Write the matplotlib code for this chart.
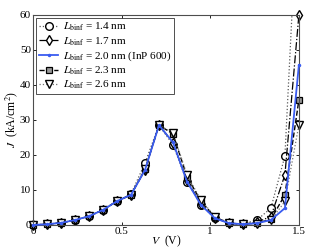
import numpy as np
import matplotlib.pyplot as plt

plt.rcParams['font.family'] = ['Liberation Serif', 'DejaVu Serif']
plt.rcParams['mathtext.fontset'] = 'stix'

#   bias points (V) and current densities (kA/cm^2) per barrier width
V = np.linspace(0, 1.5, 20)
J_14 = [0, 0.2, 0.6, 1.4, 2.5, 4.3, 6.8, 8.8, 17.7, 28.5, 22.9, 12.4, 5.7, 1.9, 0.5, 0.3, 1.4, 4.8, 19.7, 100]
J_17 = [0, 0.2, 0.6, 1.4, 2.5, 4.3, 6.8, 8.6, 15.7, 28.5, 23.5, 12.8, 5.9, 2.0, 0.5, 0.2, 0.8, 2.4, 14.3, 60]
J_20 = [0, 0.2, 0.6, 1.4, 2.5, 4.3, 6.8, 8.6, 15.7, 28.5, 23.6, 12.4, 5.7, 1.9, 0.5, 0.2, 0.5, 1.4, 4.8, 45.7]
J_23 = [0, 0.2, 0.6, 1.4, 2.5, 4.3, 6.8, 8.6, 15.9, 28.5, 26.0, 13.8, 6.8, 2.2, 0.5, 0.2, 0.5, 1.6, 8.6, 35.7]
J_26 = [0, 0.2, 0.6, 1.4, 2.5, 4.3, 6.8, 8.6, 15.9, 28.5, 26.3, 14.3, 7.1, 2.4, 0.6, 0.2, 0.4, 1.4, 6.7, 28.6]

labels = [r'$L_{\rm binf}$ = 1.4 nm', r'$L_{\rm binf}$ = 1.7 nm',
          r'$L_{\rm binf}$ = 2.0 nm (InP 600)', r'$L_{\rm binf}$ = 2.3 nm',
          r'$L_{\rm binf}$ = 2.6 nm']

fig = plt.figure(figsize=(3.12, 2.48), dpi=100)
ax = fig.add_axes([0.106, 0.093, 0.852, 0.847])

ax.plot(V, J_14, linestyle=':', color='0.35', lw=0.9, marker='o', ms=5.5,
        mfc='white', mec='black', mew=1.0, label=labels[0])
ax.plot(V, J_17, linestyle='-.', color='black', lw=0.9, marker='d', ms=5.5,
        mfc='white', mec='black', mew=1.0, label=labels[1], clip_on=False)
ax.plot(V, J_20, linestyle='-', color='#3a5cf0', lw=1.3, marker='.', ms=3,
        mfc='#3a5cf0', mec='#3a5cf0', label=labels[2], clip_on=False, zorder=5)
ax.plot(V, J_23, linestyle='--', color='black', lw=1.0, marker='s', ms=4.5,
        mfc='0.6', mec='black', mew=0.9, label=labels[3], clip_on=False)
ax.plot(V, J_26, linestyle=':', color='0.45', lw=0.9, marker='v', ms=5.5,
        mfc='white', mec='black', mew=1.0, label=labels[4], clip_on=False)

ax.set_xlim(0, 1.5)
ax.set_ylim(0, 60)
ax.set_xticks([0, 0.5, 1, 1.5])
ax.set_xticklabels(['0', '0.5', '1', '1.5'])
ax.set_yticks(range(0, 61, 10))
ax.tick_params(direction='in', top=True, right=True, length=2.5, width=0.6,
               labelsize=8, pad=1.5)
for s in ax.spines.values():
    s.set_linewidth(0.8)
    s.set_color('0.3')

ax.set_xlabel(r'$V$  (V)', fontsize=8.5, labelpad=-2)
ax.set_ylabel(r'$J$  (kA/cm$^2$)', fontsize=8.5, labelpad=0)

leg = ax.legend(loc='upper left', fontsize=8, frameon=True, fancybox=False,
                edgecolor='black', handlelength=1.7, handletextpad=0.4,
                labelspacing=0.15, borderpad=0.3, borderaxespad=0.25)
leg.get_frame().set_linewidth(0.6)

fig.savefig('out.png', dpi=100)
